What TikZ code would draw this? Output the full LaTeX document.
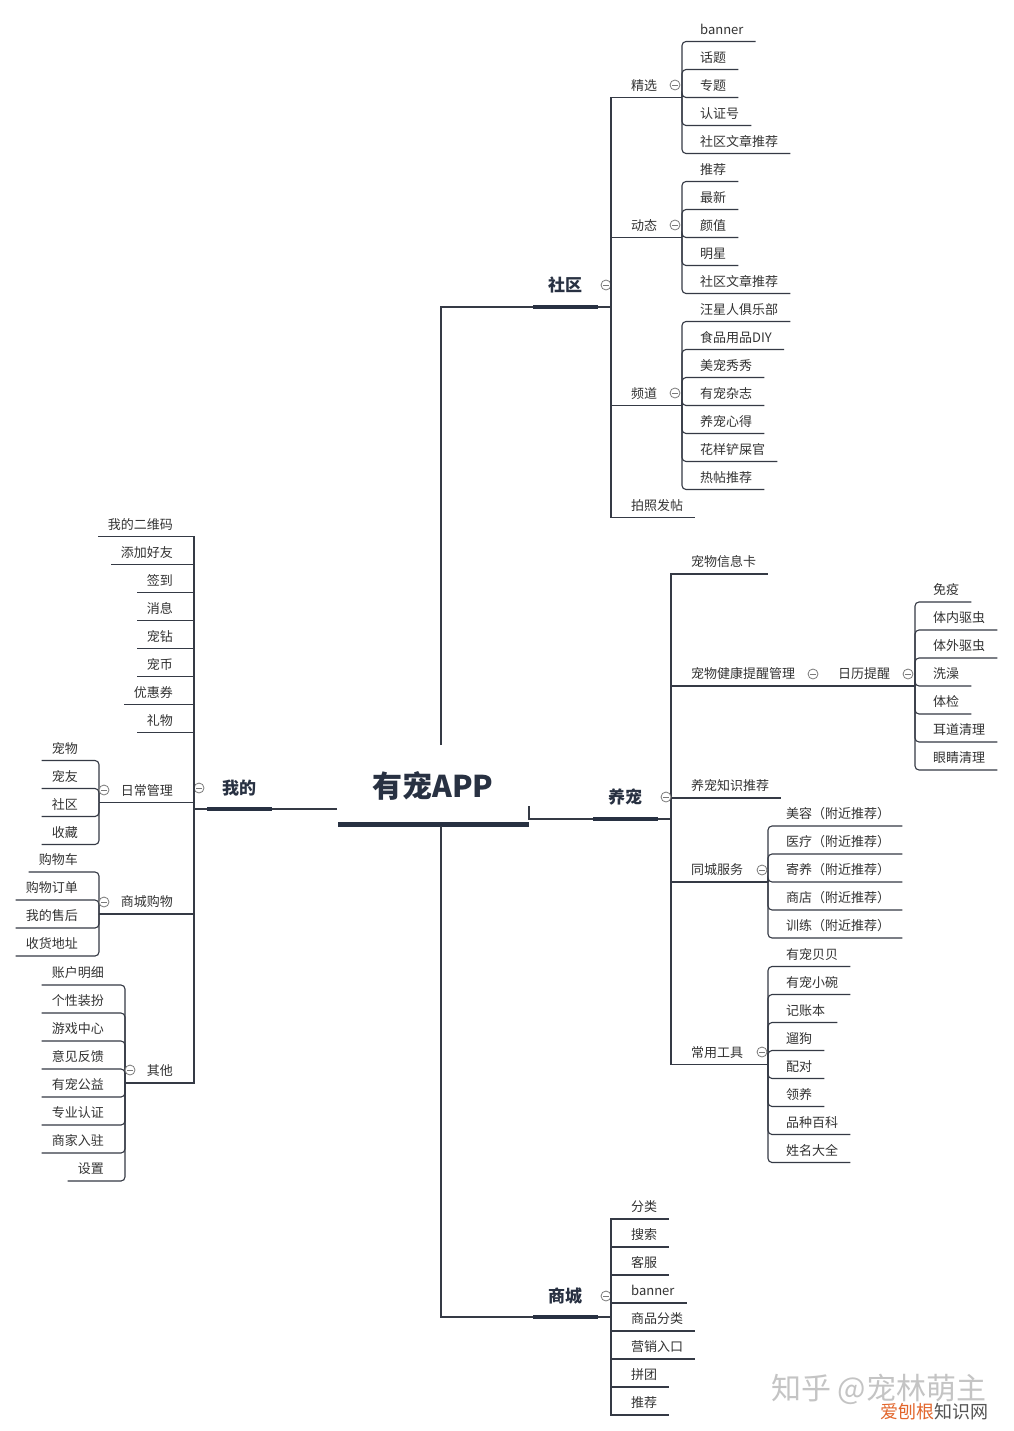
\documentclass[tikz,border=0pt]{standalone}
\usepackage{fontspec}
\setmainfont{Noto Sans CJK SC}
\definecolor{txt}{HTML}{333333}
\definecolor{ln}{HTML}{353A45}
\definecolor{dk}{HTML}{283142}
\definecolor{fd}{HTML}{7A7A7A}
\definecolor{wmg}{HTML}{C4C4C4}
\definecolor{wmo}{HTML}{E2662C}
\definecolor{wmd}{HTML}{555555}
\tikzset{
 leaf/.style={font=\fontsize{13}{13}\selectfont, text=txt, inner xsep=0pt, inner ysep=4pt, text height=10pt, text depth=3pt},
 lr/.style={leaf, anchor=south west},
 ll/.style={leaf, anchor=south east},
 conn/.style={draw=ln, line width=1.1pt},
 conn2/.style={conn, rounded corners=4pt},
 bar/.style={draw=dk, line width=4pt},
 title/.style={font=\fontsize{17}{17}\selectfont\bfseries, text=dk, inner sep=0pt},
 fold/.style={circle, draw=fd, line width=0.8pt, minimum size=10pt, inner sep=0pt, fill=white,
   path picture={\draw[fd, line width=0.8pt] ([xshift=-2.8pt]path picture bounding box.center) -- ([xshift=2.8pt]path picture bounding box.center);}},
}
% right leaf: [style]{parent junction}{name}{text x}{y}{text}
\newcommand\RL[6][conn2]{\node[lr] (#3) at (#4,#5) {#6};\draw[#1] (#2) |- (#3.south east) -- ++(12,0);}
% left leaf
\newcommand\LL[6][conn2]{\node[ll] (#3) at (#4,#5) {#6};\draw[#1] (#2) |- (#3.south west) -- ++(-10,0);}
\begin{document}
\begin{tikzpicture}[x=1pt,y=-1pt]
\useasboundingbox (0,0) rectangle (1013,1431);
\fill[white] (0,0) rectangle (1013,1431);

% ---------- root ----------
\node[font=\fontsize{30}{30}\selectfont\bfseries, text=dk, inner sep=0pt] (root) at (433,786) {有宠APP};
\draw[dk, line width=5pt] (338,824) -- (529,824);
\coordinate (rootT) at (441,745);
\coordinate (rootB) at (441,826);
\coordinate (rootL) at (337,809);
\coordinate (rootR) at (529,806);

% ---------- 社区 ----------
\coordinate (sqJ) at (611,307);
\draw[conn] (rootT) |- (sqJ);
\draw[bar] (533,307) -- (598,307);
\node[title] (sq) at (565,285) {社区};
\node[fold] (sqF) at (606,285) {};
\draw[conn] (sqJ) -- (611,97);

% 精选
\coordinate (jxJ) at (682,97.5);
\node[lr] (jx) at (631,97.5) {精选};
\draw[conn] (sqJ) |- (jxJ);
\RL{jxJ}{jx1}{700}{41.5}{banner}
\RL{jxJ}{jx2}{700}{69.5}{话题}
\RL{jxJ}{jx3}{700}{97.5}{专题}
\RL{jxJ}{jx4}{700}{125.5}{认证号}
\RL{jxJ}{jx5}{700}{153.5}{社区文章推荐}
\node[fold] (jxF) at (675,85) {};

% 动态
\coordinate (dtJ) at (682,237.5);
\node[lr] (dt) at (631,237.5) {动态};
\draw[conn] (sqJ) |- (dtJ);
\RL{dtJ}{dt1}{700}{181.5}{推荐}
\RL{dtJ}{dt2}{700}{209.5}{最新}
\RL{dtJ}{dt3}{700}{237.5}{颜值}
\RL{dtJ}{dt4}{700}{265.5}{明星}
\RL{dtJ}{dt5}{700}{293.5}{社区文章推荐}
\node[fold] (dtF) at (675,225) {};

% 频道
\coordinate (pdJ) at (682,405.5);
\node[lr] (pd) at (631,405.5) {频道};
\draw[conn] (sqJ) |- (pdJ);
\RL{pdJ}{pd1}{700}{321.5}{汪星人俱乐部}
\RL{pdJ}{pd2}{700}{349.5}{食品用品DIY}
\RL{pdJ}{pd3}{700}{377.5}{美宠秀秀}
\RL{pdJ}{pd4}{700}{405.5}{有宠杂志}
\RL{pdJ}{pd5}{700}{433.5}{养宠心得}
\RL{pdJ}{pd6}{700}{461.5}{花样铲屎官}
\RL{pdJ}{pd7}{700}{489.5}{热帖推荐}
\node[fold] (pdF) at (675,393) {};

% 拍照发帖
\RL[conn]{sqJ}{pz}{631}{517.5}{拍照发帖}

% ---------- 我的 ----------
\coordinate (wdJ) at (194,809);
\draw[conn] (rootL) -- (wdJ);
\draw[bar] (207,809) -- (272,809);
\node[title] (wd) at (239,788) {我的};
\node[fold] (wdF) at (199,788) {};
\LL[conn]{wdJ}{wd1}{173}{536.5}{我的二维码}
\LL[conn]{wdJ}{wd2}{173}{564.5}{添加好友}
\LL[conn]{wdJ}{wd3}{173}{592.5}{签到}
\LL[conn]{wdJ}{wd4}{173}{620.5}{消息}
\LL[conn]{wdJ}{wd5}{173}{648.5}{宠钻}
\LL[conn]{wdJ}{wd6}{173}{676.5}{宠币}
\LL[conn]{wdJ}{wd7}{173}{704.5}{优惠券}
\LL[conn]{wdJ}{wd8}{173}{732.5}{礼物}

% 日常管理
\coordinate (rcJ) at (99,802.5);
\node[ll] (rc) at (173,802.5) {日常管理};
\draw[conn] (wdJ) |- (rcJ);
\LL{rcJ}{rc1}{78}{760.5}{宠物}
\LL{rcJ}{rc2}{78}{788.5}{宠友}
\LL{rcJ}{rc3}{78}{816.5}{社区}
\LL{rcJ}{rc4}{78}{844.5}{收藏}
\node[fold] (rcF) at (104,790) {};

% 商城购物
\coordinate (gwJ) at (99,914);
\node[ll] (gw) at (173,914) {商城购物};
\draw[conn] (wdJ) |- (gwJ);
\LL{gwJ}{gw1}{78}{872}{购物车}
\LL{gwJ}{gw2}{78}{900}{购物订单}
\LL{gwJ}{gw3}{78}{928}{我的售后}
\LL{gwJ}{gw4}{78}{956}{收货地址}
\node[fold] (gwF) at (104,902) {};

% 其他
\coordinate (qtJ) at (125,1083);
\node[ll] (qt) at (173,1083) {其他};
\draw[conn] (wdJ) |- (qtJ);
\LL{qtJ}{qt1}{104}{985}{账户明细}
\LL{qtJ}{qt2}{104}{1013}{个性装扮}
\LL{qtJ}{qt3}{104}{1041}{游戏中心}
\LL{qtJ}{qt4}{104}{1069}{意见反馈}
\LL{qtJ}{qt5}{104}{1097}{有宠公益}
\LL{qtJ}{qt6}{104}{1125}{专业认证}
\LL{qtJ}{qt7}{104}{1153}{商家入驻}
\LL{qtJ}{qt8}{104}{1181}{设置}
\node[fold] (qtF) at (130,1070) {};

% ---------- 养宠 ----------
\coordinate (ycJ) at (671,819);
\draw[conn] (rootR) |- (ycJ);
\draw[bar] (593,819) -- (658,819);
\node[title] (yc) at (625,797) {养宠};
\RL[conn]{ycJ}{yc1}{691}{574}{宠物信息卡}

% 宠物健康提醒管理 / 日历提醒
\coordinate (jkJ) at (826,686);
\coordinate (rlJ) at (915,686);
\node[lr] (jk) at (691,686) {宠物健康提醒管理};
\node[lr] (rl) at (838,686) {日历提醒};
\draw[conn] (ycJ) |- (jkJ);
\draw[conn] (jkJ) -- (rlJ);
\node[fold] (jkF) at (813,674) {};
\RL{rlJ}{rl1}{933}{602}{免疫}
\RL{rlJ}{rl2}{933}{630}{体内驱虫}
\RL{rlJ}{rl3}{933}{658}{体外驱虫}
\RL{rlJ}{rl4}{933}{686}{洗澡}
\RL{rlJ}{rl5}{933}{714}{体检}
\RL{rlJ}{rl6}{933}{742}{耳道清理}
\RL{rlJ}{rl7}{933}{770}{眼睛清理}
\node[fold] (rlF) at (908,674) {};

\RL[conn]{ycJ}{yc2}{691}{798}{养宠知识推荐}
\node[fold] (ycF) at (666,797) {};

% 同城服务
\coordinate (tcJ) at (768,882);
\node[lr] (tc) at (691,882) {同城服务};
\draw[conn] (ycJ) |- (tcJ);
\RL{tcJ}{tc1}{786}{826}{美容（附近推荐）}
\RL{tcJ}{tc2}{786}{854}{医疗（附近推荐）}
\RL{tcJ}{tc3}{786}{882}{寄养（附近推荐）}
\RL{tcJ}{tc4}{786}{910}{商店（附近推荐）}
\RL{tcJ}{tc5}{786}{938}{训练（附近推荐）}
\node[fold] (tcF) at (762,870) {};

% 常用工具
\coordinate (cyJ) at (768,1064.5);
\node[lr] (cy) at (691,1064.5) {常用工具};
\draw[conn] (ycJ) |- (cyJ);
\RL{cyJ}{cy1}{786}{966.5}{有宠贝贝}
\RL{cyJ}{cy2}{786}{994.5}{有宠小碗}
\RL{cyJ}{cy3}{786}{1022.5}{记账本}
\RL{cyJ}{cy4}{786}{1050.5}{遛狗}
\RL{cyJ}{cy5}{786}{1078.5}{配对}
\RL{cyJ}{cy6}{786}{1106.5}{领养}
\RL{cyJ}{cy7}{786}{1134.5}{品种百科}
\RL{cyJ}{cy8}{786}{1162.5}{姓名大全}
\node[fold] (cyF) at (762,1052) {};

% ---------- 商城 ----------
\coordinate (scJ) at (611,1317);
\draw[conn] (rootB) |- (scJ);
\draw[bar] (533,1317) -- (598,1317);
\node[title] (sc) at (565,1296) {商城};
\node[fold] (scF) at (606,1296) {};
\RL[conn]{scJ}{sc1}{631}{1219}{分类}
\RL[conn]{scJ}{sc2}{631}{1247}{搜索}
\RL[conn]{scJ}{sc3}{631}{1275}{客服}
\RL[conn]{scJ}{sc4}{631}{1303}{banner}
\RL[conn]{scJ}{sc5}{631}{1331}{商品分类}
\RL[conn]{scJ}{sc6}{631}{1359}{营销入口}
\RL[conn]{scJ}{sc7}{631}{1387}{拼团}
\RL[conn]{scJ}{sc8}{631}{1415}{推荐}

% ---------- watermark ----------
\node[font=\fontsize{30}{30}\selectfont, text=wmg, inner sep=0pt, anchor=west] (wm1) at (771,1389) {知乎 @宠林萌主};
\node[font=\fontsize{18}{18}\selectfont, inner sep=0pt, anchor=west] (wm2) at (880,1412) {\textcolor{wmo}{爱刨根}\textcolor{wmd}{知识网}};
\end{tikzpicture}
\end{document}
